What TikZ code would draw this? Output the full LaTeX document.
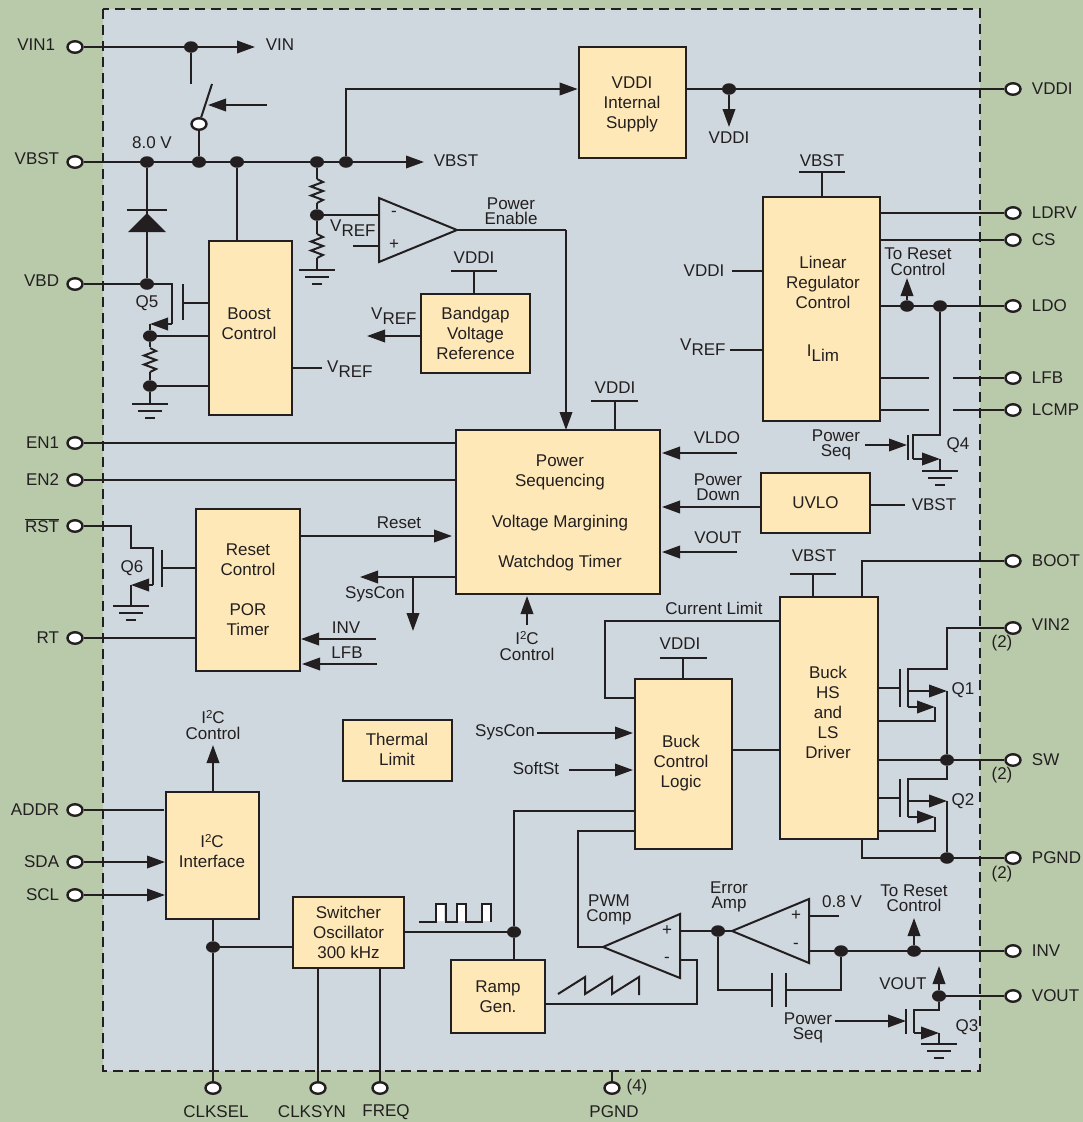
\documentclass[tikz,border=0pt]{standalone}
\usepackage{fontspec}
\setmainfont{Liberation Sans}
\usetikzlibrary{arrows.meta,shapes.geometric}
\definecolor{ink}{HTML}{231F20}
\definecolor{outerbg}{HTML}{B9CAAB}
\definecolor{innerbg}{HTML}{CFD8DF}
\definecolor{boxfill}{HTML}{FEE8B8}
\newcommand{\vrefl}{V\raisebox{-4.5pt}{REF}}
\newcommand{\ilim}{I\raisebox{-4.5pt}{Lim}}
\newcommand{\itc}{I\raisebox{5.5pt}{\fontsize{11.5}{11.5}\selectfont 2}C}
\tikzset{
  wire/.style={draw=ink,line width=2pt,line join=miter},
  arr/.style={wire,-{Triangle[length=18pt,width=12.5pt]}},
  blk/.style={draw=ink,fill=boxfill,line width=2.6pt,inner sep=0pt,align=center,text=ink,font=\fontsize{17}{20}\selectfont},
  blktext/.style={inner sep=0pt,align=center,text=ink,font=\fontsize{17}{20}\selectfont},
  txt/.style={inner sep=0pt,text=ink,align=center,font=\fontsize{17}{15.5}\selectfont},
  term/.style={ellipse,draw=ink,fill=white,line width=2.4pt,minimum width=15pt,minimum height=11.5pt,inner sep=0pt},
  dot/.style={ellipse,fill=ink,minimum width=14pt,minimum height=11.5pt,inner sep=0pt},
  pin/.style={txt},
  groundsym/.pic={
    \draw[wire] (-18,0)--(18,0);
    \draw[wire] (-12,7)--(12,7);
    \draw[wire] (-5,14)--(5,14);
  },
  zigzag/.pic={
    \draw[wire] (0,0)--(6,3)--(-6,7.5)--(6,12)--(-6,16.5)--(6,21)--(0,24);
  }
}
\begin{document}
\begin{tikzpicture}[x=1pt,y=-1pt]
\useasboundingbox (0,0) rectangle (1083,1122);
\fill[outerbg] (0,0) rectangle (1083,1122);
\fill[innerbg] (103,9) rectangle (980,1071);
\draw[ink,line width=2pt,dash pattern=on 10pt off 6pt] (103,9) rectangle (980,1071);

% ---------- blocks
\node[blk,minimum width=107pt,minimum height=111pt] (vddibox) at (632.5,102.5) {};
\node[blktext] (vddibox-t) at (632,104) {VDDI\\Internal\\Supply};
\node[blk,minimum width=83pt,minimum height=174pt] (boost) at (250.5,328) {};
\node[blktext] (boost-t) at (249,323.5) {Boost\\Control};
\node[blk,minimum width=109pt,minimum height=79pt] (bandgap) at (475.5,333.5) {Bandgap\\Voltage\\Reference};
\node[blk,minimum width=117pt,minimum height=224pt] (linear) at (821.5,309) {};
\node[blktext] (linear-t) at (823,309) {Linear\\Regulator\\Control\\[28pt]\ilim};
\node[blk,minimum width=204pt,minimum height=164pt] (power) at (558,512) {};
\node[blktext] (power-t) at (560,513) {Power\\Sequencing\\[21pt]Voltage Margining\\[20pt]Watchdog Timer};
\node[blk,minimum width=109pt,minimum height=60pt] (uvlo) at (815.5,503) {UVLO};
\node[blk,minimum width=104pt,minimum height=162pt] (reset) at (248,590) {Reset\\Control\\[20pt]POR\\Timer};
\node[blk,minimum width=109pt,minimum height=61pt] (thermal) at (397.5,750.5) {};
\node[blktext] (thermal-t) at (397,749) {Thermal\\Limit};
\node[blk,minimum width=93pt,minimum height=127pt] (i2c) at (212.5,855.5) {};
\node[blktext] (i2c-t) at (212,851) {\itc\\Interface};
\node[blk,minimum width=111pt,minimum height=71pt] (osc) at (348.5,932.5) {Switcher\\Oscillator\\300 kHz};
\node[blk,minimum width=94pt,minimum height=73pt] (ramp) at (498,996.5) {Ramp\\Gen.};
\node[blk,minimum width=97pt,minimum height=170pt] (bctl) at (683.5,764) {};
\node[blktext] (bctl-t) at (681,763.5) {Buck\\Control\\Logic};
\node[blk,minimum width=98pt,minimum height=242pt] (bdrv) at (829,718) {};
\node[blktext] (bdrv-t) at (828,712.5) {Buck\\HS\\and\\LS\\Driver};

% ---------- terminals
\tikzset{
  lt/.style={label={[pin,label distance=7pt,yshift=0pt]left:#1}},
  lu/.style={label={[pin,label distance=7pt,yshift=3pt]left:#1}},
  rt/.style={label={[pin,label distance=10pt]right:#1}},
  ru/.style={label={[pin,label distance=10pt,yshift=3pt]right:#1}}}
\node[term,label={[pin,label distance=11pt,yshift=2pt]left:VIN1}] (vin1) at (75,47) {};
\node[term,lu=VBST] (vbst) at (75,162) {};
\node[term,lu=VBD] (vbd) at (75,284) {};
\node[term,lt=EN1] (en1) at (75,443) {};
\node[term,lt=EN2] (en2) at (75,480) {};
\node[term,lt={$\overline{\mbox{RST}}$}] (rst) at (75,526) {};
\node[term,lt=RT] (rt) at (75,638) {};
\node[term,lt=ADDR] (addr) at (75,810) {};
\node[term,lt=SDA] (sda) at (75,862) {};
\node[term,lt=SCL] (scl) at (75,895) {};
\node[term,rt=VDDI] (tvddi) at (1013,89) {};
\node[term,rt=LDRV] (ldrv) at (1013,213) {};
\node[term,rt=CS] (cs) at (1013,240) {};
\node[term,rt=LDO] (ldo) at (1013,306) {};
\node[term,rt=LFB] (tlfb) at (1013,378) {};
\node[term,rt=LCMP] (lcmp) at (1013,410) {};
\node[term,rt=BOOT] (boot) at (1013,561) {};
\node[term,ru=VIN2] (vin2) at (1013,628) {};
\node[term,rt=SW] (sw) at (1013,760) {};
\node[term,rt=PGND] (pgndr) at (1013,858) {};
\node[term,rt=INV] (tinv) at (1013,951) {};
\node[term,rt=VOUT] (tvout) at (1013,996) {};
\node[term] (clksel) at (213,1088) {};
\node[term] (clksyn) at (318,1088) {};
\node[term] (freq) at (380,1088) {};
\node[term] (pgndb) at (612,1088) {};
\node[pin] (l-clksel) at (216,1112) {CLKSEL};
\node[pin] (l-clksyn) at (312,1112) {CLKSYN};
\node[pin] (l-freq) at (386,1112) {FREQ};
\node[pin] (l-pgnd) at (614,1112) {PGND};
\node[pin] (l-4) at (637,1087) {(4)};
\node[pin] (l-2a) at (1002,643) {(2)};
\node[pin] (l-2b) at (1002,775) {(2)};
\node[pin] (l-2c) at (1002,874) {(2)};

% ---------- junction dots
\foreach \n/\x/\y in {dvin/191/47,db1/147/162,db2/199/162,db3/237/162,db4/317/162,db5/346/162,
  dvddi/729/89,dvbd/147/284,dq5a/150/336,dq5b/150/386,ddiv/317/215,dldoa/907/306,dldob/940/306,
  dsw/947/760,dpg/947/858,di2c/213/947,dosc/514/932,derr/718/931,dinva/841/951,dinvb/914/951,dvout/939/996}
  {\node[dot] (\n) at (\x,\y) {};}

% ---------- free ends and bends
\foreach \n/\x/\y in {
  vinend/255/47,swstub/191/84,swtop/212/84,swarrS/267/105,swarrE/208/105,vbstend/424/162,
  vddibend/346/89,vddiarr/729/127,
  q5a/172/284,q5b/172/324,q5c/150/324,q5gA/183/284,q5gB/183/320,q5gC/184/303,
  gndq5/150/404,vrefB/322/368,gnddiv/317/270,
  ampA/379/198,ampB/379/262,ampC/457/230,ampIn/353/246,ampIp/379/246,ampIm/379/215,
  penb/566/230,pent/566/430,
  bgS1/451/271,bgS2/497/271,bgS3/474/271,bgArr/367/336,
  pwS1/591/401,pwS2/638/401,pwS3/615/401,
  liS1/799/172,liS2/845/172,liS3/822/172,liV/732/271,liR/730/350,
  rsta/907/278,lfbA/929/378,lfbB/953/378,lcA/929/410,lcB/953/410,
  q4d/940/435,q4e/913/435,q4f/913/459,q4g/940/459,q4h/940/471,q4gA/908/435,q4gB/908/460,q4in/865/445,q4to/907/445,
  vldoS/737/453,vldoE/662/453,pdE/662/507,voS/737/552,voE/662/552,
  uvloE/905/505,
  resE/452/536,sysO/456/577,sysE/360/577,sysB/413/577,sysD/413/631,
  i2cS/527/625,i2cE/527/596,
  invS/376/639,invE/301/639,lfbS/377/664,lfbE/302/664,
  q6a/131/526,q6b/131/548,q6c/153/548,q6d/153/585,q6e/131/585,q6f/131/606,q6gA/162/550,q6gB/162/587,q6gC/163/568,
  i2cT/213/745,addrE/164/810,sdaE/165/862,sclE/165/895,
  oscS/393/932,
  gBot/612/1071,
  cl1/605/621,cl2/605/698,
  ssS/537/733,ssE/633/733,sfS/569/770,sfE/633/770,
  pw1/514/811,pw2/578/831,pw3/578/947,
  cmpA/680/914,cmpB/680/978,cmpC/603/947,
  errA/809/899,errB/809/963,errC/732/931,
  rg1/697/1004,rg2/697/960,rg3/680/960,
  lnk/680/931,
  e08A/809/916,e08B/839/916,
  eout/809/951,
  cap1/718/990,cap2/772/990,cap3/786/990,cap4/841/990,capA/772/973,capB/772/1007,capC/786/973,capD/786/1007,
  rstB/914/918,voutB/939/966,
  q3a/939/1010,q3b/914/1010,q3c/914/1033,q3d/939/1033,q3e/939/1044,q3gA/906/1009,q3gB/906/1034,q3in/835/1021,q3to/906/1021,
  bS1/790/574,bS2/836/574,bS3/813/574,bc1/660/658,bc2/707/658,bc3/683/658,
  bootA/862/561,
  v2a/947/628,v2b/947/669,
  q1c/908/669,q1d/908/707,q1gA/900/669,q1gB/900/707,q1gC/900/688,q1s/908/691,q1t/947/691,q1u/908/707,q1v/935/707,q1w/935/721,
  q2a/947/779,q2c/908/779,q2d/908/817,q2gA/900/779,q2gB/900/817,q2gC/900/798,q2s/908/801,q2t/947/801,q2u/908/817,q2v/935/817,q2w/935/831,
  pgA/862/858}
  {\coordinate (\n) at (\x,\y);}

% ---------- top-left: VIN, VBST, diode, Q5
\draw[wire] (vin1)--(dvin);
\draw[arr] (dvin)--(vinend);
\draw[wire] (dvin)--(swstub);
\node[term] (swo) at (199,124) {};
\draw[wire] (swo)--(swtop);
\draw[arr] (swarrS)--(swarrE);
\draw[wire] (swo)--(db2);
\draw[wire] (vbst)--(db1)--(db2)--(db3)--(db4)--(db5);
\draw[arr] (db5)--(vbstend);
\draw[arr] (db5)--(vddibend)--(vddibox.west |- vddibend);
\draw[wire] (vddibox.east |- tvddi)--(tvddi);
\draw[arr] (dvddi)--(vddiarr);
\draw[wire] (db1)--(dvbd);
\draw[wire] (127,210)--(167,210);
\fill[ink] (147,213)--(128,232)--(166,232)--cycle;
\draw[wire] (vbd)--(dvbd)--(q5a)--(q5b);
\draw[arr] (q5b)--(q5c);
\draw[wire] (q5c)--(dq5a);
\draw[wire] (q5gA)--(q5gB);
\draw[wire] (q5gC)--(q5gC -| boost.west);
\draw[wire] (dq5a)--(dq5a -| boost.west);
\draw[wire] (dq5b)--(dq5b -| boost.west);
\draw[wire] (dq5a)--(150,347);
\pic at (150,348) {zigzag};
\draw[wire] (150,372)--(dq5b);
\draw[wire] (dq5b)--(gndq5);
\pic at (gndq5) {groundsym};
\draw[wire] (db3)--(db3 |- boost.north);
\draw[wire] (vrefB -| boost.east)--(vrefB);
\node[pin,anchor=west] (l-vrefb) at (327,369) {\vrefl};
\node[pin] (l-vin) at (280,45) {VIN};
\node[pin] (l-8v) at (152,143) {8.0 V};
\node[pin] (l-q5) at (147,303) {Q5};
\node[pin] (l-vbst) at (456,161) {VBST};
\node[pin] (l-vddi1) at (729,138) {VDDI};

% ---------- divider and comparator
\draw[wire] (db4)--(317,179);
\pic at (317,179) {zigzag};
\draw[wire] (317,203)--(ddiv);
\draw[wire] (ddiv)--(317,234);
\pic at (317,234) {zigzag};
\draw[wire] (317,258)--(gnddiv);
\pic at (gnddiv) {groundsym};
\draw[wire] (ampA)--(ampB)--(ampC)--cycle;
\draw[wire] (ddiv)--(ampIm);
\draw[wire] (ampIn)--(ampIp);
\node[pin] (l-ampm) at (394,214) {-};
\node[pin] (l-ampp) at (394,245) {+};
\node[pin,anchor=west] (l-vrefa) at (330,228) {\vrefl};
\draw[wire] (ampC)--(penb);
\draw[arr] (penb)--(pent);
\node[txt] (l-pe) at (511,211) {Power\\Enable};

% ---------- bandgap
\draw[wire] (bgS1)--(bgS2);
\draw[wire] (bgS3)--(bgS3 |- bandgap.north);
\node[pin] (l-bg) at (474,258) {VDDI};
\draw[arr] (bandgap.west |- bgArr)--(bgArr);
\node[pin,anchor=west] (l-vrefc) at (371,316) {\vrefl};

% ---------- power sequencing
\draw[wire] (pwS1)--(pwS2);
\draw[wire] (pwS3)--(pwS3 |- power.north);
\node[pin] (l-pwv) at (615,388) {VDDI};
\draw[wire] (en1)--(en1 -| power.west);
\draw[wire] (en2)--(en2 -| power.west);
\draw[arr] (vldoS)--(vldoE);
\node[pin] (l-vldo) at (717,438) {VLDO};
\draw[arr] (uvlo.west |- pdE)--(pdE);
\node[txt] (l-pd) at (718,487) {Power\\Down};
\draw[arr] (voS)--(voE);
\node[pin] (l-vout1) at (718,538) {VOUT};
\draw[wire] (uvlo.east |- uvloE)--(uvloE);
\node[pin] (l-uvbst) at (934,505) {VBST};
\draw[arr] (reset.east |- resE)--(resE);
\node[pin] (l-reset) at (399,523) {Reset};
\draw[arr] (sysO)--(sysE);
\draw[arr] (sysB)--(sysD);
\node[pin] (l-sys1) at (375,594) {SysCon};
\draw[arr] (i2cS)--(i2cE);
\node[txt] (l-i2c1) at (527,646) {\itc\\Control};
\draw[arr] (invS)--(invE);
\draw[arr] (lfbS)--(lfbE);
\node[pin] (l-inv) at (346,628) {INV};
\node[pin] (l-lfb) at (347,653) {LFB};

% ---------- Q6 and reset
\draw[wire] (rst)--(q6a)--(q6b)--(q6c)--(q6d);
\draw[arr] (q6d)--(q6e);
\draw[wire] (q6e)--(q6f);
\pic at (q6f) {groundsym};
\draw[wire] (q6gA)--(q6gB);
\draw[wire] (q6gC)--(q6gC -| reset.west);
\node[pin] (l-q6) at (132,568) {Q6};
\draw[wire] (rt)--(rt -| reset.west);

% ---------- linear regulator
\draw[wire] (liS1)--(liS2);
\draw[wire] (liS3)--(liS3 |- linear.north);
\node[pin] (l-livb) at (822,161) {VBST};
\draw[wire] (liV)--(liV -| linear.west);
\node[pin] (l-liv) at (704,271) {VDDI};
\draw[wire] (liR)--(liR -| linear.west);
\node[pin,anchor=west] (l-lir) at (680,347) {\vrefl};
\draw[wire] (ldrv -| linear.east)--(ldrv);
\draw[wire] (cs -| linear.east)--(cs);
\draw[wire] (ldo -| linear.east)--(dldoa)--(dldob)--(ldo);
\draw[arr] (dldoa)--(rsta);
\node[txt] (l-tr1) at (918,261.5) {To Reset\\Control};
\draw[wire] (lfbA -| linear.east)--(lfbA);
\draw[wire] (lfbB)--(tlfb);
\draw[wire] (lcA -| linear.east)--(lcA);
\draw[wire] (lcB)--(lcmp);
\draw[wire] (dldob)--(q4d)--(q4e)--(q4f);
\draw[arr] (q4f)--(q4g);
\draw[wire] (q4g)--(q4h);
\pic at (q4h) {groundsym};
\draw[wire] (q4gA)--(q4gB);
\draw[arr] (q4in)--(q4to);
\node[txt] (l-ps1) at (836,445) {Power\\Seq};
\node[pin] (l-q4) at (958,445) {Q4};

% ---------- I2C and oscillator
\draw[arr] (i2c.north -| i2cT)--(i2cT);
\node[txt] (l-i2c2) at (213,725) {\itc\\Control};
\draw[wire] (addr)--(addrE);
\draw[arr] (sda)--(sdaE);
\draw[arr] (scl)--(sclE);
\draw[wire] (clksel |- i2c.south)--(di2c);
\draw[wire] (di2c)--(clksel);
\draw[wire] (di2c)--(di2c -| osc.west);
\draw[wire] (clksyn |- osc.south)--(clksyn);
\draw[wire] (freq |- osc.south)--(freq);
\draw[wire] (osc.east |- dosc)--(dosc);
\draw[wire] (dosc)--(dosc |- ramp.north);
\draw[wire] (dosc)--(pw1)--(pw1 -| bctl.west);
\fill[white] (437,905) rectangle (444,921) (458,905) rectangle (465,921) (483,905) rectangle (490,921);
\draw[wire] (419,922)--(436,922)--(436,904)--(446,904)--(446,922)--(457,922)--(457,904)--(466,904)--(466,922)--(482,922)--(482,904)--(491,904)--(491,922);
\draw[wire] (gBot)--(pgndb);

% ---------- buck control
\draw[wire] (bc1)--(bc2);
\draw[wire] (bc3)--(bc3 |- bctl.north);
\node[pin] (l-bcv) at (680,644) {VDDI};
\draw[wire] (cl1 -| bdrv.west)--(cl1)--(cl2)--(cl2 -| bctl.west);
\node[pin] (l-cl) at (714,608) {Current Limit};
\draw[arr] (ssS)--(ssE);
\node[pin] (l-sys2) at (505,732) {SysCon};
\draw[arr] (sfS)--(sfE);
\node[pin] (l-soft) at (536,768) {SoftSt};
\draw[wire] (bctl.east |- 0,750)--(bdrv.west |- 0,750);
\draw[wire] (pw2 -| bctl.west)--(pw2)--(pw3)--(cmpC);

% ---------- comparators
\draw[wire] (cmpA)--(cmpB)--(cmpC)--cycle;
\draw[wire] (errA)--(errB)--(errC)--cycle;
\node[pin] (l-cp) at (667,931) {+};
\node[pin] (l-cm) at (667,960) {-};
\node[pin] (l-ep) at (796,916) {+};
\node[pin] (l-em) at (796,946) {-};
\node[txt] (l-pwm) at (609,910) {PWM\\Comp};
\node[txt] (l-err) at (729,897) {Error\\Amp};
\draw[wire] (lnk)--(derr)--(errC);
\draw[wire] (derr)--(cap1)--(cap2);
\draw[wire] (capA)--(capB);
\draw[wire] (capC)--(capD);
\draw[wire] (cap3)--(cap4)--(dinva);
\draw[wire] (eout)--(dinva)--(dinvb)--(tinv);
\draw[arr] (dinvb)--(rstB);
\node[txt] (l-tr2) at (914,898) {To Reset\\Control};
\draw[wire] (e08A)--(e08B);
\node[pin] (l-08) at (842,902) {0.8 V};
\draw[wire] (ramp.east |- rg1)--(rg1)--(rg2)--(rg3);
\draw[wire] (558,994)--(585,977)--(585,994)--(612,977)--(612,994)--(639,977)--(639,995);

% ---------- Q3
\draw[wire] (tvout)--(dvout);
\draw[arr] (dvout)--(voutB);
\node[pin] (l-vout2) at (903,984) {VOUT};
\draw[wire] (dvout)--(q3a)--(q3b)--(q3c);
\draw[arr] (q3c)--(q3d);
\draw[wire] (q3d)--(q3e);
\pic at (q3e) {groundsym};
\draw[wire] (q3gA)--(q3gB);
\draw[arr] (q3in)--(q3to);
\node[txt] (l-ps2) at (808,1028) {Power\\Seq};
\node[pin] (l-q3) at (967,1027) {Q3};

% ---------- buck driver and power FETs
\draw[wire] (bS1)--(bS2);
\draw[wire] (bS3)--(bS3 |- bdrv.north);
\node[pin] (l-bdv) at (814,556) {VBST};
\draw[wire] (bootA |- bdrv.north)--(bootA)--(boot);
\draw[wire] (vin2)--(v2a)--(v2b)--(q1c)--(q1d);
\draw[wire] (q1gA)--(q1gB);
\draw[wire] (q1gC -| bdrv.east)--(q1gC);
\draw[arr] (q1s)--(q1t);
\draw[arr] (q1u)--(q1v);
\draw[wire] (q1v)--(q1w)--(q1w -| bdrv.east);
\draw[wire] (q1t)--(dsw);
\node[pin] (l-q1) at (963,690) {Q1};
\draw[wire] (dsw -| bdrv.east)--(dsw)--(sw);
\draw[wire] (dsw)--(q2a)--(q2c)--(q2d);
\draw[wire] (q2gA)--(q2gB);
\draw[wire] (q2gC -| bdrv.east)--(q2gC);
\draw[arr] (q2s)--(q2t);
\draw[arr] (q2u)--(q2v);
\draw[wire] (q2v)--(q2w)--(q2w -| bdrv.east);
\draw[wire] (q2t)--(dpg);
\node[pin] (l-q2) at (963,801) {Q2};
\draw[wire] (pgA |- bdrv.south)--(pgA)--(dpg)--(pgndr);
\end{tikzpicture}
\end{document}
